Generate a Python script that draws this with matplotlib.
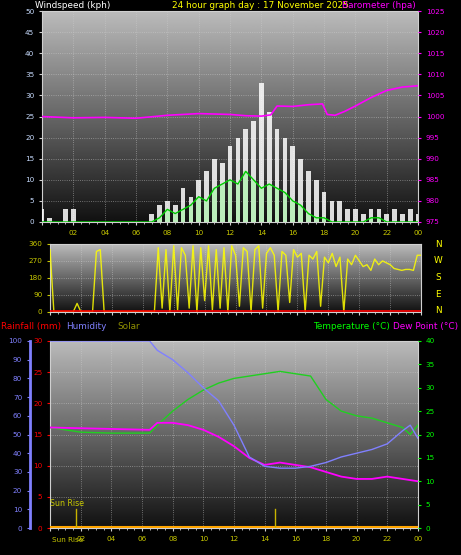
import numpy as np
import matplotlib
matplotlib.use("Agg")
import matplotlib.pyplot as plt

hours = [0,2,4,6,8,10,12,14,16,18,20,22,24]
hour_labels = ["","02","04","06","08","10","12","14","16","18","20","22","00"]

# half-hourly wind (kph)
wind_t = [i*0.5 for i in range(49)]
gust = [3,1,0,3,3,0,0,0,0,0,0,0,0,0,2,4,5,4,8,6,10,12,15,14,18,20,22,24,33,26,22,20,18,15,12,10,7,5,5,3,3,2,3,3,2,3,2,3,2]
avg_wind = [0,0,0,0,0,0,0,0,0,0,0,0,0,0,0,1,3,2,3,4,6,5,8,9,10,9,12,10,8,9,8,7,5,4,2,1,1,0,0,0,0,0,1,1,0,0,0,0,0]

# barometer (hpa)
baro_t = [0,2,4,6,8,10,12,13,14,14.6,15,16,17,17.9,18.2,18.7,19.3,20,21,22,23,24]
baro   = [1000,999.7,999.8,999.6,1000.3,1000.7,1000.5,1000.2,1000.1,1000.4,1002.5,1002.4,1002.8,1003,1000.5,1000.3,1001.2,1002.5,1004.5,1006.2,1007,1007.3]

# wind direction (deg), quarter-hourly
dir_t = [i*0.25 for i in range(97)]
wdir = [330,0,0,0,0,0,0,45,0,0,0,0,320,330,0,0,0,0,0,0,0,0,0,0,0,0,0,0,
        340,20,330,0,350,10,340,300,20,350,0,340,60,350,10,330,20,340,0,350,
        300,30,340,320,0,330,350,20,310,340,300,0,320,300,50,330,290,310,0,300,
        280,320,30,290,260,310,240,290,0,280,250,300,270,240,250,220,280,250,
        270,260,250,230,225,220,225,225,220,300,300]

# lower panel
temp_t = [0,2,4,6,6.5,7,8,9,10,11,12,13,14,15,16,17,18,19,20,21,22,23,23.5,24]
temp   = [21.5,20.5,20.3,20.3,20.3,22,25,27.5,29.5,31,32,32.5,33,33.5,33,32.5,27.5,25,24,23.5,22.5,21.5,20,22]
hum_t  = [0,2,4,6,6.5,7,8,9,10,11,12,13,14,15,16,17,18,19,20,21,22,23,23.5,24]
hum    = [100,100,100,100,100,95,90,83,75,68,55,38,33,32,32,33,35,38,40,42,45,52,55,48]
dew_t  = [0,6.5,7,8,9,10,11,12,13,14,15,16,17,18,19,20,21,22,23,24]
dew    = [21.5,21,22.5,22.5,22,21,19.5,17.5,15,13.5,14,13.5,13,12,11,10.5,10.5,11,10.5,10]
sun_rise, sun_mark = 1.7, 14.7

fig = plt.figure(figsize=(4.61, 5.55), dpi=100, facecolor="black")
FS = 5.2
TF = 6.4
grad = np.linspace(1, 0, 256).reshape(-1, 1)

def panel(rect):
    ax = fig.add_axes(rect)
    ax.set_facecolor("black")
    ax.imshow(grad, extent=[0, 1, 0, 1], transform=ax.transAxes, cmap="gray",
              vmin=-0.1, vmax=1.4, aspect="auto", zorder=0)
    for s in ax.spines.values():
        s.set_color("#d0d0d0")
    ax.set_xlim(0, 24)
    ax.set_xticks(hours)
    ax.set_xticks(np.arange(0, 24.01, 0.5), minor=True)
    ax.grid(True, color="#d0d0d0", ls=":", lw=0.6, alpha=0.6)
    ax.tick_params(colors="#d0d0d0", labelsize=FS, length=2)
    ax.tick_params(which="minor", length=1.5, colors="#d0d0d0")
    return ax

# top panel
ax1 = panel([0.091, 0.6, 0.816, 0.38])
ax1.set_ylim(0, 50)
ax1.set_yticks(range(0, 51, 5))
ax1.set_xticklabels(hour_labels, color="#c8c800")
for t in ax1.get_yticklabels():
    t.set_color("#c8dcff")
ax1.bar(wind_t, gust, width=0.3, color="white", alpha=0.85, zorder=3)
ax1.bar(wind_t, avg_wind, width=0.3, color="#b8f0b8", alpha=0.9, zorder=4)
ax1.plot(wind_t, avg_wind, color="#00cc00", lw=1, zorder=5)
ax1b = ax1.twinx()
ax1b.set_ylim(975, 1025)
ax1b.set_yticks(range(975, 1026, 5))
ax1b.tick_params(colors="#ff00ff", labelsize=FS, length=2)
for s in ax1b.spines.values():
    s.set_visible(False)
ax1b.plot(baro_t, baro, color="#ff00ff", lw=1.2)
fig.text(0.075, 0.99, "Windspeed (kph)", color="white", fontsize=TF, va="center")
fig.text(0.373, 0.99, "24 hour graph day : 17 November 2025", color="yellow", fontsize=TF, va="center")
fig.text(0.742, 0.99, "Barometer (hpa)", color="#ff00ff", fontsize=TF, va="center")

# middle panel
ax2 = panel([0.1085, 0.438, 0.805, 0.1225])
ax2.set_ylim(0, 360)
ax2.set_yticks([0, 90, 180, 270, 360])
ax2.tick_params(axis="y", colors="#c8c800")
ax2.set_xticklabels([])
ax2.plot(dir_t, wdir, color="yellow", lw=1, alpha=0.85, zorder=3)
ax2.plot([0, 24], [3, 3], color="red", lw=1.2, zorder=4)
for i, ch in enumerate("NWSEN"):
    fig.text(0.95, 0.56 - i * 0.03, ch, color="yellow", fontsize=TF, ha="center", va="center")

# lower panel labels
fig.text(0.002, 0.411, "Rainfall (mm)", color="red", fontsize=TF, va="center")
fig.text(0.143, 0.411, "Humidity", color="#8080ff", fontsize=TF, va="center")
fig.text(0.255, 0.411, "Solar", color="#909000", fontsize=TF, va="center")
fig.text(0.678, 0.411, "Temperature (°C)", color="#00ff00", fontsize=TF, va="center")
fig.text(0.853, 0.411, "Dew Point (°C)", color="#ff00ff", fontsize=TF, va="center")

ax3 = panel([0.1085, 0.0486, 0.798, 0.337])
ax3.set_ylim(0, 30)
ax3.set_yticks(range(0, 31, 5))
ax3.tick_params(axis="y", colors="red")
ax3.set_xticklabels(hour_labels, color="#c8c800")
ax3.plot([0, 24], [0.2, 0.2], color="orange", lw=1.5, zorder=4)
ax3.axvline(sun_rise, ymax=0.1, color="#c8b400", lw=1, zorder=4)
ax3.axvline(sun_mark, ymax=0.1, color="#c8b400", lw=1, zorder=4)
ax3.text(0, 3.5, "Sun Rise", color="#c8c800", fontsize=FS + 0.5)
ax3.text(0.1, -2.2, "Sun Rise", color="#c8c800", fontsize=FS)
ax3t = ax3.twinx()
ax3t.set_ylim(0, 40)
ax3t.set_yticks(range(0, 41, 5))
ax3t.tick_params(colors="#00ff00", labelsize=FS, length=2)
for s in ax3t.spines.values():
    s.set_visible(False)
ax3t.plot(temp_t, temp, color="#20d020", lw=1)
ax3t.plot(dew_t, dew, color="#ff00ff", lw=1.3)
ax3h = ax3.twinx()
ax3h.set_ylim(0, 100)
ax3h.set_yticks(range(0, 101, 10))
ax3h.set_yticks(range(0, 101, 2), minor=True)
ax3h.yaxis.set_ticks_position("left")
ax3h.yaxis.set_label_position("left")
for k, s in ax3h.spines.items():
    s.set_visible(k == "left")
ax3h.spines["left"].set_position(("axes", -0.055))
ax3h.spines["left"].set_color("#8080ff")
ax3h.spines["left"].set_linewidth(2)
ax3h.tick_params(colors="#8080ff", labelsize=FS, length=2)
ax3h.plot(hum_t, hum, color="#8080ff", lw=1)

fig.savefig("out.png", dpi=100, facecolor="black")
